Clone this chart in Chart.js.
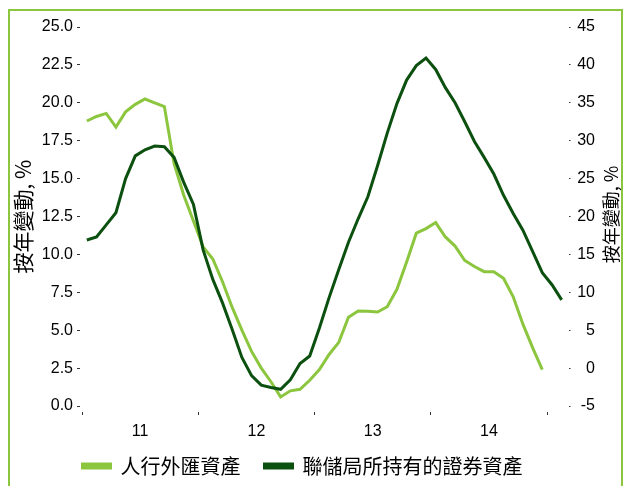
<!DOCTYPE html>
<html><head><meta charset="utf-8">
<script src="https://cdn.jsdelivr.net/npm/chart.js@4/dist/chart.umd.min.js"></script>
<style>
html,body{margin:0;padding:0;background:#fff;overflow:hidden;}
#wrap{position:absolute;left:0;top:0;width:626px;height:486px;}
#frame{position:absolute;left:8px;top:9px;width:611px;height:600px;border:2px solid #8cc63f;pointer-events:none;}
</style></head><body>
<div id="wrap"><canvas id="c"></canvas></div>
<div id="frame"></div>
<script>
// Monthly categories: Jan 2011 .. Feb 2015
const months = [
 '2011-01','2011-02','2011-03','2011-04','2011-05','2011-06','2011-07','2011-08','2011-09','2011-10','2011-11','2011-12',
 '2012-01','2012-02','2012-03','2012-04','2012-05','2012-06','2012-07','2012-08','2012-09','2012-10','2012-11','2012-12',
 '2013-01','2013-02','2013-03','2013-04','2013-05','2013-06','2013-07','2013-08','2013-09','2013-10','2013-11','2013-12',
 '2014-01','2014-02','2014-03','2014-04','2014-05','2014-06','2014-07','2014-08','2014-09','2014-10','2014-11','2014-12',
 '2015-01','2015-02'
];
const yearLabels = ['11','12','13','14'];
const yearTickMonths = [0, 12, 24, 36, 48];
const yearLabelMonths = [6, 18, 30, 42];

// 人行外匯資產 (left axis, % y/y)
const pbocFx = [
 18.8, 19.1, 19.3, 18.4, 19.4, 19.9, 20.25, 20.0, 19.75, 16.0, 13.9, 12.2,
 10.5, 9.7, 8.2, 6.5, 5.0, 3.6, 2.5, 1.6, 0.6, 1.0, 1.1, 1.7,
 2.4, 3.4, 4.2, 5.85, 6.27, 6.25, 6.2, 6.55, 7.7, 9.5, 11.4, 11.7,
 12.1, 11.15, 10.55, 9.6, 9.2, 8.86, 8.86, 8.42, 7.2, 5.4, 3.85, 2.4,
 null, null
];
// 聯儲局所持有的證券資產 (right axis, % y/y)
const fedSecurities = [
 16.9, 17.3, 18.9, 20.5, 25.0, 28.0, 28.8, 29.3, 29.2, 27.8, 24.5, 21.6,
 15.6, 11.7, 8.6, 5.1, 1.4, -1.0, -2.25, -2.55, -2.8, -1.55, 0.6, 1.6,
 5.3, 9.3, 13.0, 16.6, 19.7, 22.6, 26.7, 31.0, 34.9, 38.0, 39.9, 40.9,
 39.4, 37.0, 35.0, 32.5, 29.9, 27.8, 25.6, 22.8, 20.4, 18.2, 15.4, 12.6,
 11.0, 9.0
];
const seriesNames = ['人行外匯資產', '聯儲局所持有的證券資產'];
const axisTitle = '按年變動, %';

const LIGHT = '#8cc63f';
const DARK = '#0b500f';
const TICK = '#333333';

const toPoints = arr => arr.map((v, i) => ({x: i + 0.5, y: v}));

const rightTitle = {
  id: 'rightTitle',
  afterDraw(chart) {
    const ctx = chart.ctx;
    const a = chart.chartArea;
    ctx.save();
    ctx.translate(611, (a.top + a.bottom) / 2 - 2);
    ctx.rotate(-Math.PI / 2);
    ctx.font = '18px "Noto Sans CJK TC"';
    ctx.fillStyle = '#000';
    ctx.textAlign = 'center';
    ctx.textBaseline = 'middle';
    ctx.fillText(axisTitle, 0, 0);
    ctx.restore();
  }
};

new Chart(document.getElementById('c'), {
  type: 'line',
  data: {
    datasets: [
      {label: seriesNames[1], data: toPoints(fedSecurities), yAxisID: 'y2', borderColor: DARK, backgroundColor: DARK,
       borderWidth: 3, pointRadius: 0, tension: 0, fill: false},
      {label: seriesNames[0], data: toPoints(pbocFx), yAxisID: 'y', borderColor: LIGHT, backgroundColor: LIGHT,
       borderWidth: 3, pointRadius: 0, tension: 0, fill: false, spanGaps: false}
    ]
  },
  options: {
    responsive: true,
    maintainAspectRatio: false,
    animation: false,
    layout: {padding: {left: 10, right: 31, top: 27, bottom: 0}},
    plugins: {
      tooltip: {enabled: false},
      legend: {
        position: 'bottom',
        reverse: true,
        labels: {
          boxWidth: 28, boxHeight: 4, padding: 24, color: '#000',
          font: {family: '"Noto Sans CJK TC"', size: 20}
        }
      }
    },
    scales: {
      x: {
        type: 'linear', min: 0, max: months.length,
        afterBuildTicks: s => { s.ticks = yearTickMonths.concat(yearLabelMonths).sort((a,b)=>a-b).map(v => ({value: v})); },
        afterFit: s => { s.height = 26; s._computeLabelArea = () => undefined; },
        border: {display: false},
        grid: {drawOnChartArea: false, tickLength: 9, tickWidth: 1, tickBorderDash: [0, 6, 3, 20],
               tickColor: c => (c.tick && yearTickMonths.includes(c.tick.value)) ? TICK : 'rgba(0,0,0,0)'},
        ticks: {autoSkip: false, maxRotation: 0, padding: 7, color: '#000',
                font: {family: '"Liberation Sans"', size: 16},
                callback: v => { const k = yearLabelMonths.indexOf(v); return k >= 0 ? yearLabels[k] : ''; }}
      },
      y: {
        position: 'left', min: 0, max: 25,
        afterFit: s => { s.width = 72; },
        border: {display: false},
        grid: {drawOnChartArea: false, tickLength: 5, tickBorderDash: [3, 10], tickColor: TICK},
        ticks: {stepSize: 2.5, padding: 4, color: '#000', font: {family: '"Liberation Sans"', size: 16},
                callback: v => Number(v).toFixed(1)},
        title: {display: true, text: axisTitle, color: '#000', font: {family: '"Noto Sans CJK TC"', size: 21},
                padding: {top: 0, bottom: 0}}
      },
      y2: {
        position: 'right', min: -5, max: 45,
        afterFit: s => { s.width = 28.5; },
        border: {display: false},
        grid: {drawOnChartArea: false, tickLength: 4, tickBorderDash: [0, 2, 2, 10], tickColor: TICK},
        ticks: {stepSize: 5, padding: 7, crossAlign: 'far', color: '#000', font: {family: '"Liberation Sans"', size: 16}}
      }
    }
  },
  plugins: [rightTitle]
});
</script>
</body></html>
